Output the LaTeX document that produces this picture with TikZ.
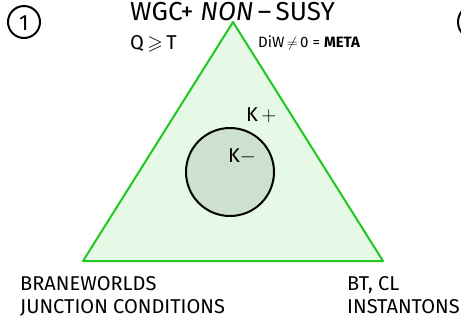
\documentclass[tikz,border=0pt]{standalone}
\usepackage{amsmath, amssymb}
\usepackage{fontspec}
\setsansfont{Fira Sans}
\usetikzlibrary{positioning}
\definecolor{trifill}{RGB}{230, 248, 230}
\definecolor{triline}{RGB}{30, 200, 30}
\definecolor{diskfill}{RGB}{206, 224, 206}

\begin{document}
\begin{tikzpicture}[x=1pt, y=-1pt, line join=round,
    hand/.style={font=\sffamily\fontsize{20}{22}\selectfont, inner sep=0pt, anchor=base west},
    bighand/.style={font=\sffamily\fontsize{26}{28}\selectfont, inner sep=0pt, anchor=base west},
    smallhand/.style={font=\sffamily\fontsize{15}{17}\selectfont, inner sep=0pt, anchor=base west}]

  \useasboundingbox (0,0) rectangle (461,325);

  % --- triangle ---
  \filldraw[fill=trifill, draw=triline, line width=2pt]
    (233,22) -- (83,261) -- (383,261) -- cycle;

  % --- inner disk ---
  \filldraw[fill=diskfill, draw=black, line width=2pt] (230,172) circle (44);

  % --- corner marks ---
  \draw[line width=2pt] (24,22) circle (16);
  \node[font=\sffamily\fontsize{22}{24}\selectfont] (one) at (24,23) {1};
  \draw[line width=2pt] (475,22) circle (17);

  % --- labels ---
  \node[bighand] (wgc) at (130,20) {WGC+ \textit{NON}\,--\,SUSY};
  \node[hand] (qt) at (130,49) {Q$\,\geqslant\,$T};
  \node[smallhand] (diw) at (258,47) {DiW$\,\neq\,$0 = \textbf{META}};
  \node[hand] (kplus) at (246,121) {K$\,+$};
  \node[hand] (kminus) at (228,162) {K$-$};

  \node[hand] (brane) at (20,290) {BRANEWORLDS};
  \node[hand] (junc) at (20,313) {JUNCTION CONDITIONS};
  \node[hand] (btcl) at (347,290) {BT, CL};
  \node[hand] (inst) at (347,313) {INSTANTONS};

\end{tikzpicture}
\end{document}
